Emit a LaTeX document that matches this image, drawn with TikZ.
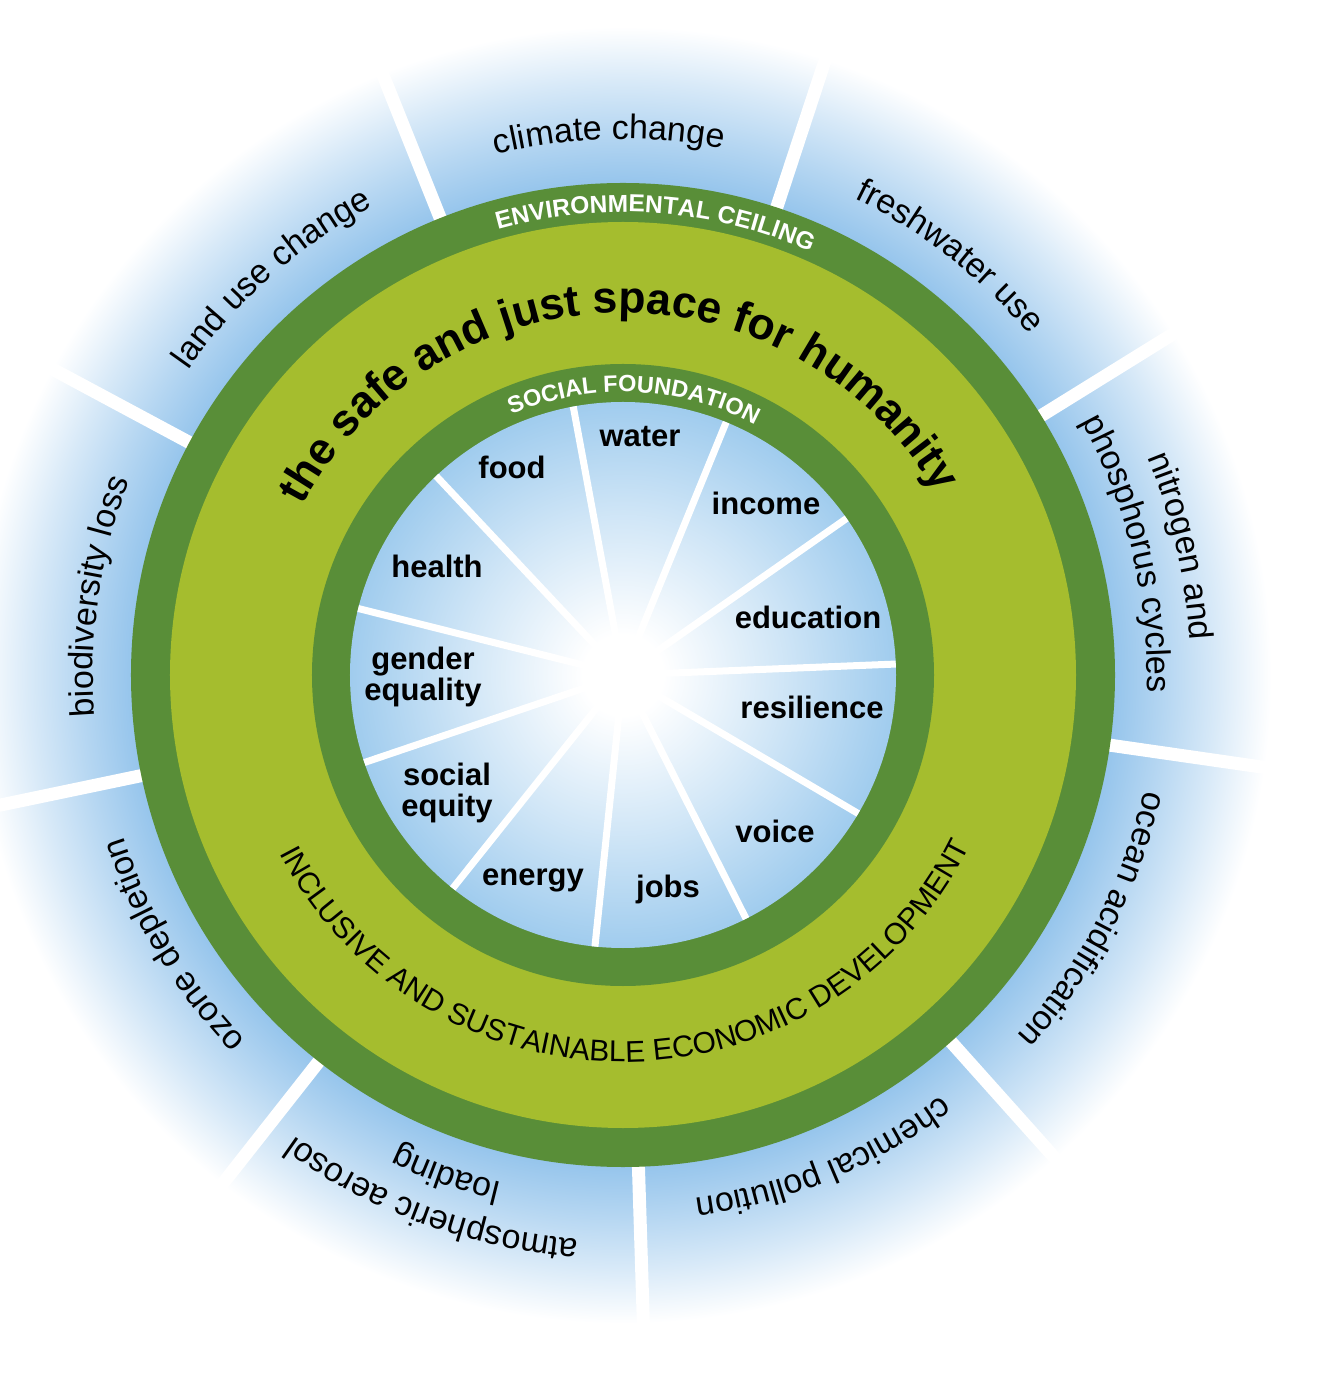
\documentclass[tikz,border=0pt]{standalone}
\usepackage{fontspec}
\setmainfont{Liberation Sans}
\usepackage{xcolor}
\usetikzlibrary{decorations.text}
\definecolor{ringdark}{RGB}{89,142,56}
\definecolor{ringlight}{RGB}{165,189,46}
\definecolor{limitblue}{RGB}{150,197,236}
\definecolor{needblue}{RGB}{160,204,238}
% stops in bp = picture radius, used at natural size
\pgfdeclareradialshading{limitglow}{\pgfpoint{0bp}{0bp}}{%
  color(0bp)=(limitblue); color(490bp)=(limitblue); color(540bp)=(limitblue!70);
  color(590bp)=(limitblue!38); color(628bp)=(limitblue!12); color(646bp)=(white);
  color(700bp)=(white)}
\pgfdeclareradialshading{needglow}{\pgfpoint{0bp}{0bp}}{%
  color(0bp)=(white); color(40bp)=(white); color(160bp)=(needblue!50);
  color(272bp)=(needblue); color(300bp)=(needblue)}
\newcommand{\limitfont}{\fontsize{34}{40}\selectfont}
\newcommand{\bandfont}{\fontsize{24.5}{28}\selectfont\bfseries}
\newcommand{\foundfont}{\fontsize{23.5}{26}\selectfont\bfseries}
\newcommand{\spacefont}{\fontsize{44.5}{50}\selectfont\bfseries}
\newcommand{\devfont}{\fontsize{30}{34}\selectfont}
\tikzstyle{needlabel} = [inner sep=0pt, align=center,
font=\fontsize{31}{31}\selectfont\bfseries]
\tikzstyle{limitspoke} = [draw=white, line width=13pt]
\tikzstyle{needspoke} = [draw=white, line width=7pt]
\tikzstyle{curved} = [decorate, decoration={text along path, text align=center}]

\begin{document}
\begin{tikzpicture}[x=1pt, y=1pt]
    \useasboundingbox (-623,-705) rectangle (701,675);
    \fill[white] (-623,-705) rectangle (701,675);
    \coordinate (hub) at (0,0);

    % planetary boundaries
    \begin{scope}
        \clip (hub) circle[radius=660];
        \pgftext{\pgfuseshading{limitglow}}
    \end{scope}
    \draw[limitspoke] (111.8:480) -- (111.8:652);
    \draw[limitspoke] (71.8:480)  -- (71.8:652);
    \draw[limitspoke] (31.8:480)  -- (31.8:652);
    \draw[limitspoke] (-8.2:480)  -- (-8.2:652);
    \draw[limitspoke] (-48.2:480) -- (-48.2:652);
    \draw[limitspoke] (-88.2:480) -- (-88.2:652);
    \draw[limitspoke] (-128.2:480) -- (-128.2:652);
    \draw[limitspoke] (-168.2:480) -- (-168.2:652);
    \draw[limitspoke] (151.8:480) -- (151.8:652);

    % the doughnut
    \fill[ringdark]  (hub) circle[radius=492];
    \fill[ringlight] (hub) circle[radius=453];
    \fill[ringdark]  (hub) circle[radius=311];
    \begin{scope}
        \clip (hub) circle[radius=273];
        \pgftext{\pgfuseshading{needglow}}
    \end{scope}

    % social foundation wedges
    \draw[needspoke] (hub) -- (2.3:273);
    \draw[needspoke] (hub) -- (35.0:273);
    \draw[needspoke] (hub) -- (67.8:273);
    \draw[needspoke] (hub) -- (100.5:273);
    \draw[needspoke] (hub) -- (133.2:273);
    \draw[needspoke] (hub) -- (165.9:273);
    \draw[needspoke] (hub) -- (-161.3:273);
    \draw[needspoke] (hub) -- (-128.6:273);
    \draw[needspoke] (hub) -- (-95.9:273);
    \draw[needspoke] (hub) -- (-63.2:273);
    \draw[needspoke] (hub) -- (-30.5:273);

    \node (water)     [needlabel] at (17,238)   {water};
    \node (income)    [needlabel] at (143,172)  {income};
    \node (education) [needlabel] at (185,58)   {education};
    \node (resilience)[needlabel] at (189,-32)  {resilience};
    \node (voice)     [needlabel] at (152,-156) {voice};
    \node (jobs)      [needlabel] at (45,-214)  {jobs};
    \node (energy)    [needlabel] at (-90,-205) {energy};
    \node (equity)    [needlabel] at (-176,-118) {social\\equity};
    \node (gender)    [needlabel] at (-200,-2)  {gender\\equality};
    \node (health)    [needlabel] at (-186,109) {health};
    \node (food)      [needlabel] at (-111,208) {food};

    % ring texts
    \path[curved, decoration={text color=white, text={|\bandfont|ENVIRONMENTAL CEILING}}]
        (115.9:463) arc[start angle=115.9, end angle=55.9, radius=463];
    \path[curved, decoration={text color=white, text={|\foundfont|SOCIAL FOUNDATION}}]
        (122.7:283) arc[start angle=122.7, end angle=52.7, radius=283];
    \path[curved, decoration={text={|\spacefont|the safe and just space for humanity}}]
        (156.1:362) arc[start angle=156.1, end angle=26.1, radius=362];
    \path[curved, decoration={text={|\devfont|INCLUSIVE AND SUSTAINABLE ECONOMIC DEVELOPMENT}}]
        (200.6:387) arc[start angle=200.6, end angle=340.6, radius=387];

    % boundary texts
    \path[curved, decoration={text={|\limitfont|climate change}}]
        (116.5:536) arc[start angle=116.5, end angle=66.5, radius=536];
    \path[curved, decoration={text={|\limitfont|freshwater use}}]
        (77:530) arc[start angle=77, end angle=27, radius=530];
    \path[curved, decoration={text={|\limitfont|nitrogen and}}]
        (38:568) arc[start angle=38, end angle=-12, radius=568];
    \path[curved, decoration={text={|\limitfont|phosphorus cycles}}]
        (38.5:524) arc[start angle=38.5, end angle=-11.5, radius=524];
    \path[curved, decoration={text={|\limitfont|ocean acidification}}]
        (-2.5:534) arc[start angle=-2.5, end angle=-52.5, radius=534];
    \path[curved, decoration={text={|\limitfont|chemical pollution}}]
        (-42.5:528) arc[start angle=-42.5, end angle=-92.5, radius=528];
    \path[curved, decoration={text={|\limitfont|atmospheric aerosol}}]
        (-85:566) arc[start angle=-85, end angle=-135, radius=566];
    \path[curved, decoration={text={|\limitfont|loading}}]
        (-84.5:522) arc[start angle=-84.5, end angle=-134.5, radius=522];
    \path[curved, decoration={text={|\limitfont|ozone depletion}}]
        (-124:525) arc[start angle=-124, end angle=-174, radius=525];
    \path[curved, decoration={text={|\limitfont|biodiversity loss}}]
        (196.5:530) arc[start angle=196.5, end angle=146.5, radius=530];
    \path[curved, decoration={text={|\limitfont|land use change}}]
        (156.5:531) arc[start angle=156.5, end angle=106.5, radius=531];
\end{tikzpicture}
\end{document}
